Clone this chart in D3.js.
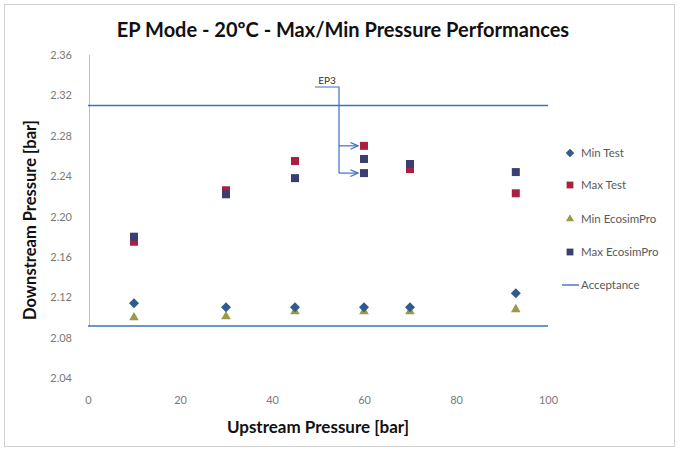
<!DOCTYPE html>
<html><head><meta charset="utf-8">
<script src="https://cdn.jsdelivr.net/npm/d3@7"></script>
<style>body{margin:0;background:#fff}svg{display:block}text{font-family:Lato,"Open Sans",sans-serif}</style>
</head><body>
<svg id="c" width="680" height="450"></svg>
<script>
const title = "EP Mode - 20ºC - Max/Min Pressure Performances";
const xTicks = [0,20,40,60,80,100];
const yTicks = [2.04,2.08,2.12,2.16,2.20,2.24,2.28,2.32,2.36];
const yTickLabels = ["2.04","2.08","2.12","2.16","2.20","2.24","2.28","2.32","2.36"];
const minTestX = [10,30,45,60,70,93];
const minTestY = [2.114,2.110,2.110,2.110,2.110,2.124];
const maxTestX = [10,30,45,60,70,93];
const maxTestY = [2.175,2.226,2.255,2.270,2.247,2.223];
const minEcoX = [10,30,45,60,70,93];
const minEcoY = [2.100,2.101,2.106,2.106,2.106,2.108];
const maxEcoX = [10,30,45,60,60,70,93];
const maxEcoY = [2.180,2.222,2.238,2.257,2.243,2.252,2.244];
const acceptance = [2.31, 2.0915];
const legendNames = ["Min Test","Max Test","Min EcosimPro","Max EcosimPro","Acceptance"];
const epTargets = [2.270, 2.243];

const svg = d3.select("#c");
const x = d3.scaleLinear().domain([0,100]).range([88,548]);
const y = d3.scaleLinear().domain([2.04,2.36]).range([378,55]);
const col = {minT:"#2f5b8e", maxT:"#a8213f", minE:"#9b9a45", maxE:"#3c3d70", acc:"#3f6fc2"};

svg.append("rect").attr("x",4.5).attr("y",4.5).attr("width",670).attr("height",442)
  .attr("fill","#fff").attr("stroke","#d0d0d0");

svg.append("text").attr("x",343).attr("y",37).attr("text-anchor","middle")
  .attr("font-size",20).attr("font-weight","bold").attr("fill","#111").text(title);

svg.append("line").attr("x1",89.5).attr("x2",89.5).attr("y1",y(2.36)).attr("y2",y(acceptance[1]))
  .attr("stroke","#bfbfbf");

const ya = d3.axisLeft(y).tickValues(yTicks).tickSize(0).tickPadding(0)
  .tickFormat((d,i)=>yTickLabels[i]);
svg.append("g").attr("transform","translate(72,0)").call(ya)
  .call(g=>g.select(".domain").remove())
  .call(g=>g.selectAll("text").attr("font-size",11).attr("fill","#7a7a7a").attr("font-family","Lato,sans-serif"));

const xa = d3.axisBottom(x).tickValues(xTicks).tickSize(0).tickPadding(0);
svg.append("g").attr("transform","translate(0,396)").call(xa)
  .call(g=>g.select(".domain").remove())
  .call(g=>g.selectAll("text").attr("font-size",11).attr("fill","#7a7a7a").attr("font-family","Lato,sans-serif"));

svg.append("text").attr("x",318).attr("y",433).attr("text-anchor","middle")
  .attr("font-size",17).attr("font-weight","bold").attr("fill","#111").text("Upstream Pressure [bar]");
svg.append("text").attr("transform","translate(36,220) rotate(-90)").attr("text-anchor","middle")
  .attr("font-size",16.5).attr("font-weight","bold").attr("fill","#111").text("Downstream Pressure [bar]");

svg.selectAll("line.acc").data(acceptance).join("line").attr("class","acc")
  .attr("x1",x(0)).attr("x2",x(100)).attr("y1",d=>y(d)).attr("y2",d=>y(d))
  .attr("stroke",col.acc).attr("stroke-width",1.6);

const sq = d3.symbol().type(d3.symbolSquare).size(64)();
const di = "M0,-5L5,0L0,5L-5,0Z";
const tr = d3.symbol().type(d3.symbolTriangle).size(40)();
function plot(xs, ys, sym, c){
  svg.append("g").selectAll("path").data(xs.map((v,i)=>[v,ys[i]])).join("path")
    .attr("d",sym).attr("transform",d=>`translate(${x(d[0])},${y(d[1])})`).attr("fill",c);
}
plot(maxTestX,maxTestY,sq,col.maxT);
plot(maxEcoX,maxEcoY,sq,col.maxE);
plot(minEcoX,minEcoY,tr,col.minE);
plot(minTestX,minTestY,di,col.minT);

const ax = x(60)-25, tx = x(60)-6;
const topY = 87;
svg.append("defs").append("marker").attr("id","ah").attr("viewBox","0 0 10 10")
  .attr("refX",9).attr("refY",5).attr("markerWidth",7).attr("markerHeight",7).attr("orient","auto")
  .append("path").attr("d","M0,1 L9,5 L0,9").attr("fill","none").attr("stroke",col.acc).attr("stroke-width",1.5);
svg.append("path").attr("d",`M${ax-24},${topY}H${ax}V${y(epTargets[1])}`)
  .attr("fill","none").attr("stroke",col.acc).attr("stroke-width",1.2);
epTargets.forEach(v=>{
  svg.append("path").attr("d",`M${ax},${y(v)}H${tx}`).attr("fill","none")
    .attr("stroke",col.acc).attr("stroke-width",1.2).attr("marker-end","url(#ah)");
});
svg.append("text").attr("x",ax-12).attr("y",topY-3).attr("text-anchor","middle")
  .attr("font-size",10).attr("fill","#333").text("EP3");

const lg = svg.append("g");
const ly = [153,185,219,252,285];
const syms = [di,sq,tr,sq,null];
const cols = [col.minT,col.maxT,col.minE,col.maxE,col.acc];
legendNames.forEach((n,i)=>{
  if(syms[i]) lg.append("path").attr("d",syms[i]).attr("transform",`translate(570,${ly[i]}) scale(0.85)`).attr("fill",cols[i]);
  else lg.append("line").attr("x1",562).attr("x2",579).attr("y1",ly[i]).attr("y2",ly[i]).attr("stroke",cols[i]).attr("stroke-width",1.4);
  lg.append("text").attr("x",581).attr("y",ly[i]+4).attr("font-size",11.5).attr("fill","#595959").text(n);
});
</script>
</body></html>
